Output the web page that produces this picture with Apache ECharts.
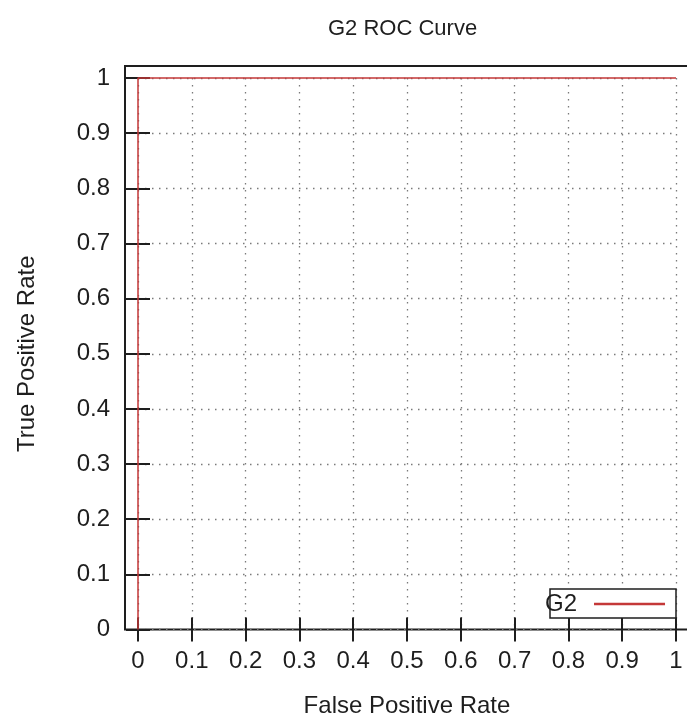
<!DOCTYPE html>
<html>
<head>
<meta charset="utf-8">
<script src="https://cdn.jsdelivr.net/npm/echarts@6/dist/echarts.min.js"></script>
<style>
  html, body { margin: 0; padding: 0; background: #fff; }
  #chart { width: 687px; height: 719px; }
</style>
</head>
<body>
<div id="chart"></div>
<script>
// ROC curve points for classifier G2
const fpr = [0, 0, 1];
const tpr = [0, 1, 1];
const seriesName = 'G2';
const titleText = 'G2 ROC Curve';
const xName = 'False Positive Rate';
const yName = 'True Positive Rate';

const FONT = 'Liberation Sans, Arial, sans-serif';
const INK = '#1e1e1e';
const RED = '#c43838';

const chart = echarts.init(document.getElementById('chart'), null, { renderer: 'canvas' });

const tickStyle = { show: true, inside: true, length: 12, lineStyle: { color: INK, width: 2 } };
const dotted = { show: true, lineStyle: { color: '#7a7a7a', width: 1.3, type: [1.5, 5.5] } };
const labelStyle = { fontFamily: FONT, fontSize: 24, color: INK };

const points = fpr.map((x, i) => [x, tpr[i]]);

chart.setOption({
  animation: false,
  backgroundColor: '#fff',
  title: {
    text: titleText,
    left: 323,
    top: 13,
    textStyle: { fontFamily: FONT, fontSize: 22, fontWeight: 'normal', color: INK }
  },
  grid: [
    // outer frame; its right edge runs past the canvas
    { left: 125, top: 66, width: 567, height: 563.5, show: true, outerBoundsMode: 'none',
      borderColor: INK, borderWidth: 2, backgroundColor: 'transparent', containLabel: false },
    // data area (0..1 on both axes)
    { left: 138, top: 78, width: 538, height: 551.5, outerBoundsMode: 'none', containLabel: false }
  ],
  xAxis: [
    { type: 'value', gridIndex: 1, position: 'bottom', min: 0, max: 1, interval: 0.1,
      axisLine: { show: false }, axisTick: tickStyle, splitLine: dotted,
      axisLabel: Object.assign({ margin: 20 }, labelStyle),
      name: xName, nameLocation: 'middle', nameGap: 65,
      nameTextStyle: { fontFamily: FONT, fontSize: 24, color: INK } },
    { type: 'value', gridIndex: 1, position: 'top', offset: 12, min: 0, max: 1, interval: 0.1,
      axisLine: { show: false }, axisTick: tickStyle, splitLine: { show: false },
      axisLabel: { show: false } },
    { type: 'value', gridIndex: 0, show: false, min: 0, max: 1 }
  ],
  yAxis: [
    { type: 'value', gridIndex: 1, position: 'left', offset: 13, min: 0, max: 1, interval: 0.1,
      axisLine: { show: false }, axisTick: tickStyle, splitLine: dotted,
      axisLabel: Object.assign({ margin: 15 }, labelStyle),
      name: yName, nameLocation: 'middle', nameGap: 86, nameRotate: 90,
      nameTextStyle: { fontFamily: FONT, fontSize: 24, color: INK } },
    { type: 'value', gridIndex: 1, position: 'right', offset: 14, min: 0, max: 1, interval: 0.1,
      axisLine: { show: false }, axisTick: tickStyle, splitLine: { show: false },
      axisLabel: { show: false } },
    { type: 'value', gridIndex: 0, show: false, min: 0, max: 1 }
  ],
  legend: {
    data: [seriesName],
    left: 545,
    top: 592,
    padding: 0,
    align: 'right',
    icon: 'rect',
    itemWidth: 71,
    itemHeight: 2.5,
    selectedMode: false,
    z: 20,
    textStyle: { fontFamily: FONT, fontSize: 24, color: INK, padding: [0, 12, 0, 0] }
  },
  graphic: [
    { type: 'rect', z: 10,
      shape: { x: 550, y: 589, width: 126, height: 29 },
      style: { fill: '#fff', stroke: INK, lineWidth: 1.5 } }
  ],
  series: [
    { name: seriesName, type: 'line', xAxisIndex: 0, yAxisIndex: 0,
      data: points, showSymbol: false, clip: false, z: 5,
      itemStyle: { color: RED },
      lineStyle: { color: RED, width: 1.5 } }
  ]
});
</script>
</body>
</html>
